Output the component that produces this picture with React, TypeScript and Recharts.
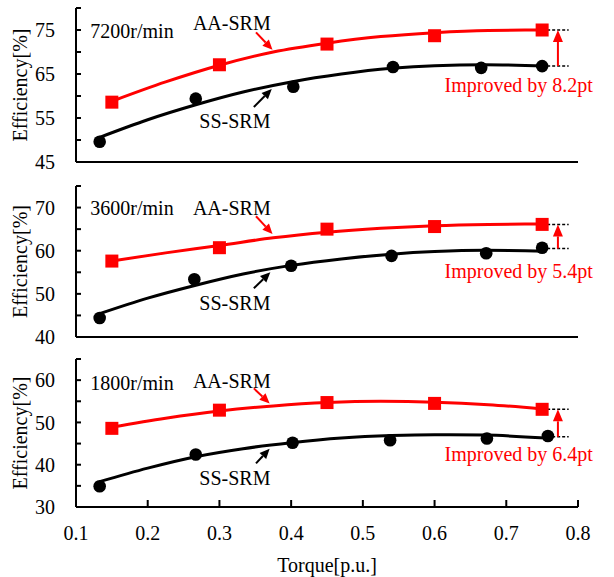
import React from "react";
import {
  ComposedChart,
  Line,
  Scatter,
  XAxis,
  YAxis,
  ReferenceDot,
  ReferenceLine,
} from "recharts";

// measured torque points [p.u.]
const torqueAA = [0.15, 0.3, 0.45, 0.6, 0.75];
const torqueSS7200 = [0.133, 0.267, 0.403, 0.542, 0.665, 0.75];
const torqueSS3600 = [0.133, 0.265, 0.4, 0.54, 0.672, 0.75];
const torqueSS1800 = [0.133, 0.267, 0.402, 0.538, 0.673, 0.758];

// measured efficiency [%]
const effAA7200 = [58.6, 67.1, 71.8, 73.7, 75.0];
const effSS7200 = [49.6, 59.4, 62.1, 66.6, 66.4, 66.8];
const effAA3600 = [57.6, 60.7, 65.0, 65.6, 66.1];
const effSS3600 = [44.4, 53.4, 56.5, 58.8, 59.4, 60.7];
const effAA1800 = [48.6, 52.9, 54.7, 54.5, 53.1];
const effSS1800 = [34.9, 42.4, 45.2, 45.8, 46.2, 46.8];

// trend lines
const trendAAx = [0.15, 0.225, 0.3, 0.375, 0.45, 0.525, 0.6, 0.675, 0.75];
const trendAA7200 = [58.8, 63.2, 67.0, 70.0, 72.0, 73.5, 74.4, 74.9, 75.0];
const trendAA3600 = [57.6, 59.5, 61.2, 63.0, 64.3, 65.2, 65.8, 66.1, 66.2];
const trendAA1800 = [48.9, 51.0, 52.7, 53.9, 54.7, 55.0, 54.8, 54.2, 53.2];
const trendSSx = [0.133, 0.2, 0.267, 0.333, 0.4, 0.47, 0.54, 0.6, 0.67, 0.755];
const trendSS7200 = [50.6, 54.6, 58.0, 60.9, 63.2, 65.0, 66.3, 66.9, 67.1, 66.8];
const trendSS3600 = [45.4, 49.0, 52.0, 54.6, 56.6, 58.1, 59.2, 59.8, 60.1, 59.9];
const trendSS1800 = [36.0, 39.2, 41.9, 43.8, 45.2, 46.3, 46.9, 47.1, 47.0, 46.3];

const xTicks = [0.1, 0.2, 0.3, 0.4, 0.5, 0.6, 0.7, 0.8];
const yTicks7200 = [45, 50, 55, 60, 65, 70, 75, 80];
const yTicks3600 = [40, 45, 50, 55, 60, 65, 70, 75];
const yTicks1800 = [30, 35, 40, 45, 50, 55, 60, 65];

const speeds = ["7200r/min", "3600r/min", "1800r/min"];
const gains = ["8.2", "5.4", "6.4"];

const FONT = "'Liberation Serif', 'Times New Roman', serif";
const RED = "#ff0000";

const zip = (xs: number[], ys: number[]) => xs.map((x, i) => ({ x, y: ys[i] }));

const textShape = (txt: string, color = "#000") => (p: any) => (
  <text x={p.cx} y={p.cy} dominantBaseline="central" fontSize={20} fontFamily={FONT} fill={color}>
    {txt}
  </text>
);

const arrowShape = (color: string, L = 10, W = 4.5) => (p: any) => {
  const { x1, y1, x2, y2 } = p;
  const a = Math.atan2(y2 - y1, x2 - x1);
  const bx = x2 - L * Math.cos(a);
  const by = y2 - L * Math.sin(a);
  const px = -Math.sin(a) * W;
  const py = Math.cos(a) * W;
  return (
    <g>
      <line x1={x1} y1={y1} x2={bx} y2={by} stroke={color} strokeWidth={2} />
      <polygon points={`${x2},${y2} ${bx + px},${by + py} ${bx - px},${by - py}`} fill={color} />
    </g>
  );
};

const square = (p: any) => <rect x={p.cx - 6.5} y={p.cy - 6.5} width={13} height={13} fill={RED} />;
const circle = (p: any) => <circle cx={p.cx} cy={p.cy} r={6.3} fill="#000" />;

type Ann = {
  speed: [number, number];
  aaLabel: [number, number];
  aaArrow: [number, number, number, number];
  ssLabel: [number, number];
  ssArrow: [number, number, number, number];
  gainText: [number, number];
  gainLow: number;
  gainHigh: number;
};

type PanelProps = {
  top: number;
  height: number;
  marginTop: number;
  axisHeight: number;
  yTicks: number[];
  aa: { x: number; y: number }[];
  ss: { x: number; y: number }[];
  aaTrend: { x: number; y: number }[];
  ssTrend: { x: number; y: number }[];
  speed: string;
  gain: string;
  ann: Ann;
  bottom?: boolean;
};

function Panel(props: PanelProps) {
  const { yTicks, ann, bottom } = props;
  const base = yTicks[0];
  const axisStyle = { stroke: "#000", strokeWidth: 2 };
  return (
    <div style={{ position: "absolute", left: 0, top: props.top }}>
      <ComposedChart
        width={614}
        height={props.height}
        margin={{ top: props.marginTop, right: 36, bottom: 0, left: 0 }}
      >
        <XAxis
          type="number"
          dataKey="x"
          domain={[0.1, 0.8]}
          ticks={xTicks}
          height={props.axisHeight}
          axisLine={axisStyle}
          tickLine={axisStyle}
          tickSize={-7}
          tickMargin={26}
          tick={bottom ? { fill: "#000", fontSize: 20, fontFamily: FONT } : false}
          label={
            bottom
              ? { value: "Torque[p.u.]", position: "insideBottom", offset: 5, fill: "#000", fontSize: 20, fontFamily: FONT }
              : undefined
          }
        />
        <YAxis
          type="number"
          dataKey="y"
          domain={[yTicks[0], yTicks[yTicks.length - 1]]}
          ticks={yTicks}
          width={76}
          axisLine={axisStyle}
          tickLine={axisStyle}
          tickSize={-5}
          tickMargin={26}
          tick={{ fill: "#000", fontSize: 20, fontFamily: FONT }}
          tickFormatter={(v: number) => ((v - base) % 10 === 0 ? String(v) : "")}
          label={{
            value: "Efficiency[%]",
            angle: -90,
            position: "insideLeft",
            offset: 24,
            dx: -4,
            fill: "#000",
            fontSize: 20,
            fontFamily: FONT,
            style: { textAnchor: "middle" },
          }}
        />
        <Line data={props.aaTrend} dataKey="y" type="monotone" stroke={RED} strokeWidth={3} dot={false} isAnimationActive={false} />
        <Line data={props.ssTrend} dataKey="y" type="monotone" stroke="#000" strokeWidth={3} dot={false} isAnimationActive={false} />
        <Scatter data={props.aa} dataKey="y" shape={square} isAnimationActive={false} />
        <Scatter data={props.ss} dataKey="y" shape={circle} isAnimationActive={false} />

        <ReferenceDot x={ann.speed[0]} y={ann.speed[1]} ifOverflow="visible" shape={textShape(props.speed)} />
        <ReferenceDot x={ann.aaLabel[0]} y={ann.aaLabel[1]} ifOverflow="visible" shape={textShape("AA-SRM")} />
        <ReferenceDot x={ann.ssLabel[0]} y={ann.ssLabel[1]} ifOverflow="visible" shape={textShape("SS-SRM")} />
        <ReferenceDot
          x={ann.gainText[0]}
          y={ann.gainText[1]}
          ifOverflow="visible"
          shape={textShape(`Improved by ${props.gain}pt`, RED)}
        />
        <ReferenceLine
          ifOverflow="visible"
          segment={[
            { x: ann.aaArrow[0], y: ann.aaArrow[1] },
            { x: ann.aaArrow[2], y: ann.aaArrow[3] },
          ]}
          shape={arrowShape(RED)}
        />
        <ReferenceLine
          ifOverflow="visible"
          segment={[
            { x: ann.ssArrow[0], y: ann.ssArrow[1] },
            { x: ann.ssArrow[2], y: ann.ssArrow[3] },
          ]}
          shape={arrowShape("#000")}
        />
        <ReferenceLine
          ifOverflow="visible"
          segment={[
            { x: 0.757, y: ann.gainHigh },
            { x: 0.787, y: ann.gainHigh },
          ]}
          stroke="#000"
          strokeWidth={1.5}
          strokeDasharray="3 2"
        />
        <ReferenceLine
          ifOverflow="visible"
          segment={[
            { x: 0.757, y: ann.gainLow },
            { x: 0.787, y: ann.gainLow },
          ]}
          stroke="#000"
          strokeWidth={1.5}
          strokeDasharray="3 2"
        />
        <ReferenceLine
          ifOverflow="visible"
          segment={[
            { x: 0.772, y: ann.gainLow },
            { x: 0.772, y: ann.gainHigh },
          ]}
          shape={arrowShape(RED, 12, 5)}
        />
      </ComposedChart>
    </div>
  );
}

const ann7200: Ann = {
  speed: [0.12, 74.8],
  aaLabel: [0.263, 76.5],
  aaArrow: [0.351, 74.45, 0.374, 70.5],
  ssLabel: [0.272, 54.25],
  ssArrow: [0.348, 57.5, 0.373, 61.6],
  gainText: [0.614, 62.4],
  gainLow: 66.8,
  gainHigh: 75.0,
};
const ann3600: Ann = {
  speed: [0.12, 69.9],
  aaLabel: [0.263, 70.0],
  aaArrow: [0.351, 68.0, 0.374, 63.9],
  ssLabel: [0.272, 47.8],
  ssArrow: [0.348, 51.3, 0.371, 55.0],
  gainText: [0.614, 55.3],
  gainLow: 60.5,
  gainHigh: 66.1,
};
const ann1800: Ann = {
  speed: [0.12, 59.4],
  aaLabel: [0.263, 59.8],
  aaArrow: [0.348, 58.05, 0.37, 54.5],
  ssLabel: [0.272, 36.9],
  ssArrow: [0.351, 40.3, 0.37, 43.8],
  gainText: [0.614, 42.6],
  gainLow: 46.6,
  gainHigh: 53.1,
};

export default function App() {
  return (
    <div
      style={{
        position: "absolute",
        left: 0,
        top: 0,
        width: 614,
        height: 577,
        background: "#fff",
        fontFamily: FONT,
      }}
    >
      <Panel
        top={0}
        height={182}
        marginTop={8}
        axisHeight={20}
        yTicks={yTicks7200}
        aa={zip(torqueAA, effAA7200)}
        ss={zip(torqueSS7200, effSS7200)}
        aaTrend={zip(trendAAx, trendAA7200)}
        ssTrend={zip(trendSSx, trendSS7200)}
        speed={speeds[0]}
        gain={gains[0]}
        ann={ann7200}
      />
      <Panel
        top={180}
        height={177}
        marginTop={6}
        axisHeight={20}
        yTicks={yTicks3600}
        aa={zip(torqueAA, effAA3600)}
        ss={zip(torqueSS3600, effSS3600)}
        aaTrend={zip(trendAAx, trendAA3600)}
        ssTrend={zip(trendSSx, trendSS3600)}
        speed={speeds[1]}
        gain={gains[1]}
        ann={ann3600}
      />
      <Panel
        top={352}
        height={225}
        marginTop={7}
        axisHeight={70}
        yTicks={yTicks1800}
        aa={zip(torqueAA, effAA1800)}
        ss={zip(torqueSS1800, effSS1800)}
        aaTrend={zip(trendAAx, trendAA1800)}
        ssTrend={zip(trendSSx, trendSS1800)}
        speed={speeds[2]}
        gain={gains[2]}
        ann={ann1800}
        bottom
      />
    </div>
  );
}
